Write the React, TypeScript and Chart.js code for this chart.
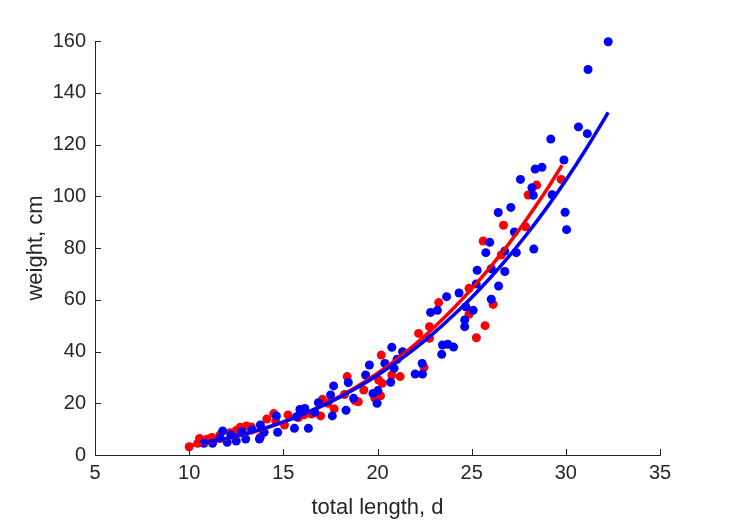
import React, { useEffect, useRef } from "react";
import { Chart, registerables } from "chart.js";

Chart.register(...registerables);

// Scatter data: red group
const redX = [10.0, 10.45, 10.55, 10.94, 11.2, 11.63, 12.18, 12.5, 12.71, 13.04, 13.3, 13.78, 14.12, 14.49, 14.6, 15.06, 15.25, 15.8, 16.1, 16.5, 16.98, 17.08, 17.37, 17.7, 18.25, 18.39, 18.8, 18.98, 19.27, 19.86, 20.06, 20.16, 20.2, 20.25, 20.76, 21.2, 22.18, 22.47, 22.76, 22.76, 23.25, 24.86, 24.86, 25.25, 25.61, 25.71, 26.14, 26.57, 26.69, 27.86, 28.0, 28.45, 29.75];
const redY = [3.2, 4.5, 6.4, 6.1, 6.8, 7.7, 8.6, 9.5, 10.7, 11.2, 10.8, 7.0, 13.9, 16.0, 13.0, 11.6, 15.5, 14.5, 15.5, 15.8, 15.1, 21.5, 20.0, 17.8, 23.4, 30.3, 21.0, 20.6, 25.1, 21.9, 29.0, 22.9, 38.6, 27.7, 30.9, 30.3, 47.0, 33.9, 49.6, 45.1, 58.9, 64.4, 54.4, 45.3, 82.7, 50.0, 58.2, 77.3, 88.8, 88.2, 100.5, 104.3, 106.5];

// Scatter data: blue group
const blueX = [32.25, 31.18, 30.67, 31.14, 29.2, 29.9, 29.96, 30.04, 29.27, 27.59, 28.37, 28.73, 28.2, 28.27, 28.3, 27.08, 26.41, 27.27, 25.96, 25.75, 26.76, 27.37, 26.04, 26.76, 25.29, 25.24, 26.43, 26.04, 24.33, 23.67, 24.69, 25.08, 24.63, 24.63, 22.82, 23.18, 23.41, 23.45, 23.73, 24.04, 22.37, 22.39, 22.0, 20.76, 21.33, 21.04, 20.39, 20.88, 20.7, 19.57, 19.37, 19.76, 20.02, 19.98, 17.67, 18.45, 17.51, 18.73, 18.33, 17.6, 16.86, 16.67, 15.88, 16.14, 15.7, 15.59, 16.33, 14.63, 14.7, 13.78, 13.98, 13.73, 13.33, 13.0, 12.8, 12.5, 12.22, 12.02, 11.78, 11.63, 11.24, 10.78];
const blueY = [159.7, 149, 126.8, 124.2, 122.1, 114, 93.8, 87.1, 100.6, 106.5, 110.5, 111.2, 103.3, 100.4, 79.6, 95.7, 93.7, 86.2, 82.2, 78.2, 78.8, 78.2, 72, 70.9, 71.4, 66.1, 65.3, 60.2, 62.6, 61.2, 57.3, 55.9, 52.2, 49.6, 55.1, 55.9, 38.9, 42.5, 42.8, 41.7, 35.4, 31.3, 31.3, 41.6, 39.9, 37, 35.4, 33.5, 28.1, 34.8, 30.9, 23.8, 24.9, 20, 26.7, 28, 23.2, 21.9, 17.3, 15.1, 20.2, 16.5, 17.6, 18, 14.8, 10.3, 10.3, 15.1, 8.8, 11.6, 8.8, 6.2, 9.7, 6.2, 9, 5.4, 7.7, 4.9, 9.3, 6.4, 4.5, 4.5];

// Fitted curves
const redFitX = [10, 11, 12, 13, 14, 15, 16, 17, 18, 19, 20, 21, 22, 23, 24, 25, 26, 27, 28, 29, 29.8];
const redFitY = [3.52, 4.76, 6.27, 8.08, 10.22, 12.72, 15.59, 18.9, 22.67, 26.9, 31.65, 36.9, 42.8, 49.3, 56.4, 64.2, 72.7, 81.9, 92.0, 102.7, 112];
const blueFitX = [10.65, 11, 12, 13, 14, 15, 16, 17, 18, 19, 20, 21, 22, 23, 24, 25, 26, 27, 28, 29, 30, 31, 32, 32.25];
const blueFitY = [4.5, 4.98, 6.5, 8.29, 10.39, 12.83, 15.61, 18.79, 22.37, 26.36, 30.83, 35.78, 41.2, 47.2, 53.8, 60.9, 68.6, 77.0, 86.0, 95.7, 106.2, 117.4, 129.3, 132.4];

// Axis labels
const xTitle = "total length, d";
const yTitle = "weight, cm";

const FONT = "'Liberation Sans', Arial, Helvetica, sans-serif";
const AXIS_COLOR = "#262626";

const zip = (xs: number[], ys: number[]) => xs.map((x, i) => ({ x, y: ys[i] }));

const inwardTicks = {
  id: "inwardTicks",
  afterDraw(chart: any) {
    const { ctx, chartArea, scales } = chart;
    const len = 6;
    ctx.save();
    ctx.strokeStyle = AXIS_COLOR;
    ctx.lineWidth = 1;
    const xs = scales.x;
    xs.ticks.forEach((t: any) => {
      const px = Math.round(xs.getPixelForValue(t.value)) + 0.5;
      ctx.beginPath();
      ctx.moveTo(px, chartArea.bottom);
      ctx.lineTo(px, chartArea.bottom - len);
      ctx.stroke();
    });
    const ys = scales.y;
    ys.ticks.forEach((t: any) => {
      const py = Math.round(ys.getPixelForValue(t.value)) + 0.5;
      ctx.beginPath();
      ctx.moveTo(chartArea.left, py);
      ctx.lineTo(chartArea.left + len, py);
      ctx.stroke();
    });
    ctx.restore();
  },
};

export default function App() {
  const ref = useRef<HTMLCanvasElement | null>(null);

  useEffect(() => {
    if (!ref.current) return;
    const chart = new Chart(ref.current, {
      type: "scatter",
      data: {
        datasets: [
          {
            data: zip(blueFitX, blueFitY),
            showLine: true,
            borderColor: "#0000FF",
            borderWidth: 3.5,
            pointRadius: 0,
            cubicInterpolationMode: "monotone",
            fill: false,
          } as any,
          {
            data: zip(redFitX, redFitY),
            showLine: true,
            borderColor: "#FF0000",
            borderWidth: 3.5,
            pointRadius: 0,
            cubicInterpolationMode: "monotone",
            fill: false,
          } as any,
          {
            data: zip(blueX, blueY),
            backgroundColor: "#0000FF",
            borderWidth: 0,
            pointRadius: 4.5,
            clip: false,
          } as any,
          {
            data: zip(redX, redY),
            backgroundColor: "#FF0000",
            borderWidth: 0,
            pointRadius: 4.5,
            clip: false,
          } as any,
        ],
      },
      options: {
        animation: false,
        responsive: false,
        devicePixelRatio: 1,
        layout: { padding: { left: 0, top: 41, right: 69, bottom: 0 } },
        plugins: {
          legend: { display: false },
          tooltip: { enabled: false },
        },
        scales: {
          x: {
            type: "linear",
            min: 5,
            max: 35,
            ticks: {
              stepSize: 5,
              padding: 6,
              color: AXIS_COLOR,
              font: { family: FONT, size: 20 },
              maxRotation: 0,
            },
            grid: { display: false, drawTicks: false },
            border: { display: true, color: AXIS_COLOR, width: 1 },
            title: {
              display: true,
              text: xTitle,
              color: AXIS_COLOR,
              font: { family: FONT, size: 22 },
              padding: { top: 0, bottom: 0 },
            },
            afterFit: (s: any) => {
              s.height = 66;
            },
          },
          y: {
            type: "linear",
            min: 0,
            max: 160,
            ticks: {
              stepSize: 20,
              padding: 9,
              color: AXIS_COLOR,
              font: { family: FONT, size: 20 },
            },
            grid: { display: false, drawTicks: false },
            border: { display: true, color: AXIS_COLOR, width: 1 },
            title: {
              display: true,
              text: yTitle,
              color: AXIS_COLOR,
              font: { family: FONT, size: 22 },
              padding: { top: 23, bottom: 0 },
            },
            afterFit: (s: any) => {
              s.width = 95;
            },
          },
        },
      } as any,
      plugins: [inwardTicks],
    });
    return () => chart.destroy();
  }, []);

  return (
    <div style={{ position: "fixed", left: 0, top: 0, width: 729, height: 521, background: "#fff" }}>
      <canvas ref={ref} width={729} height={521} style={{ display: "block", width: 729, height: 521 }} />
    </div>
  );
}
